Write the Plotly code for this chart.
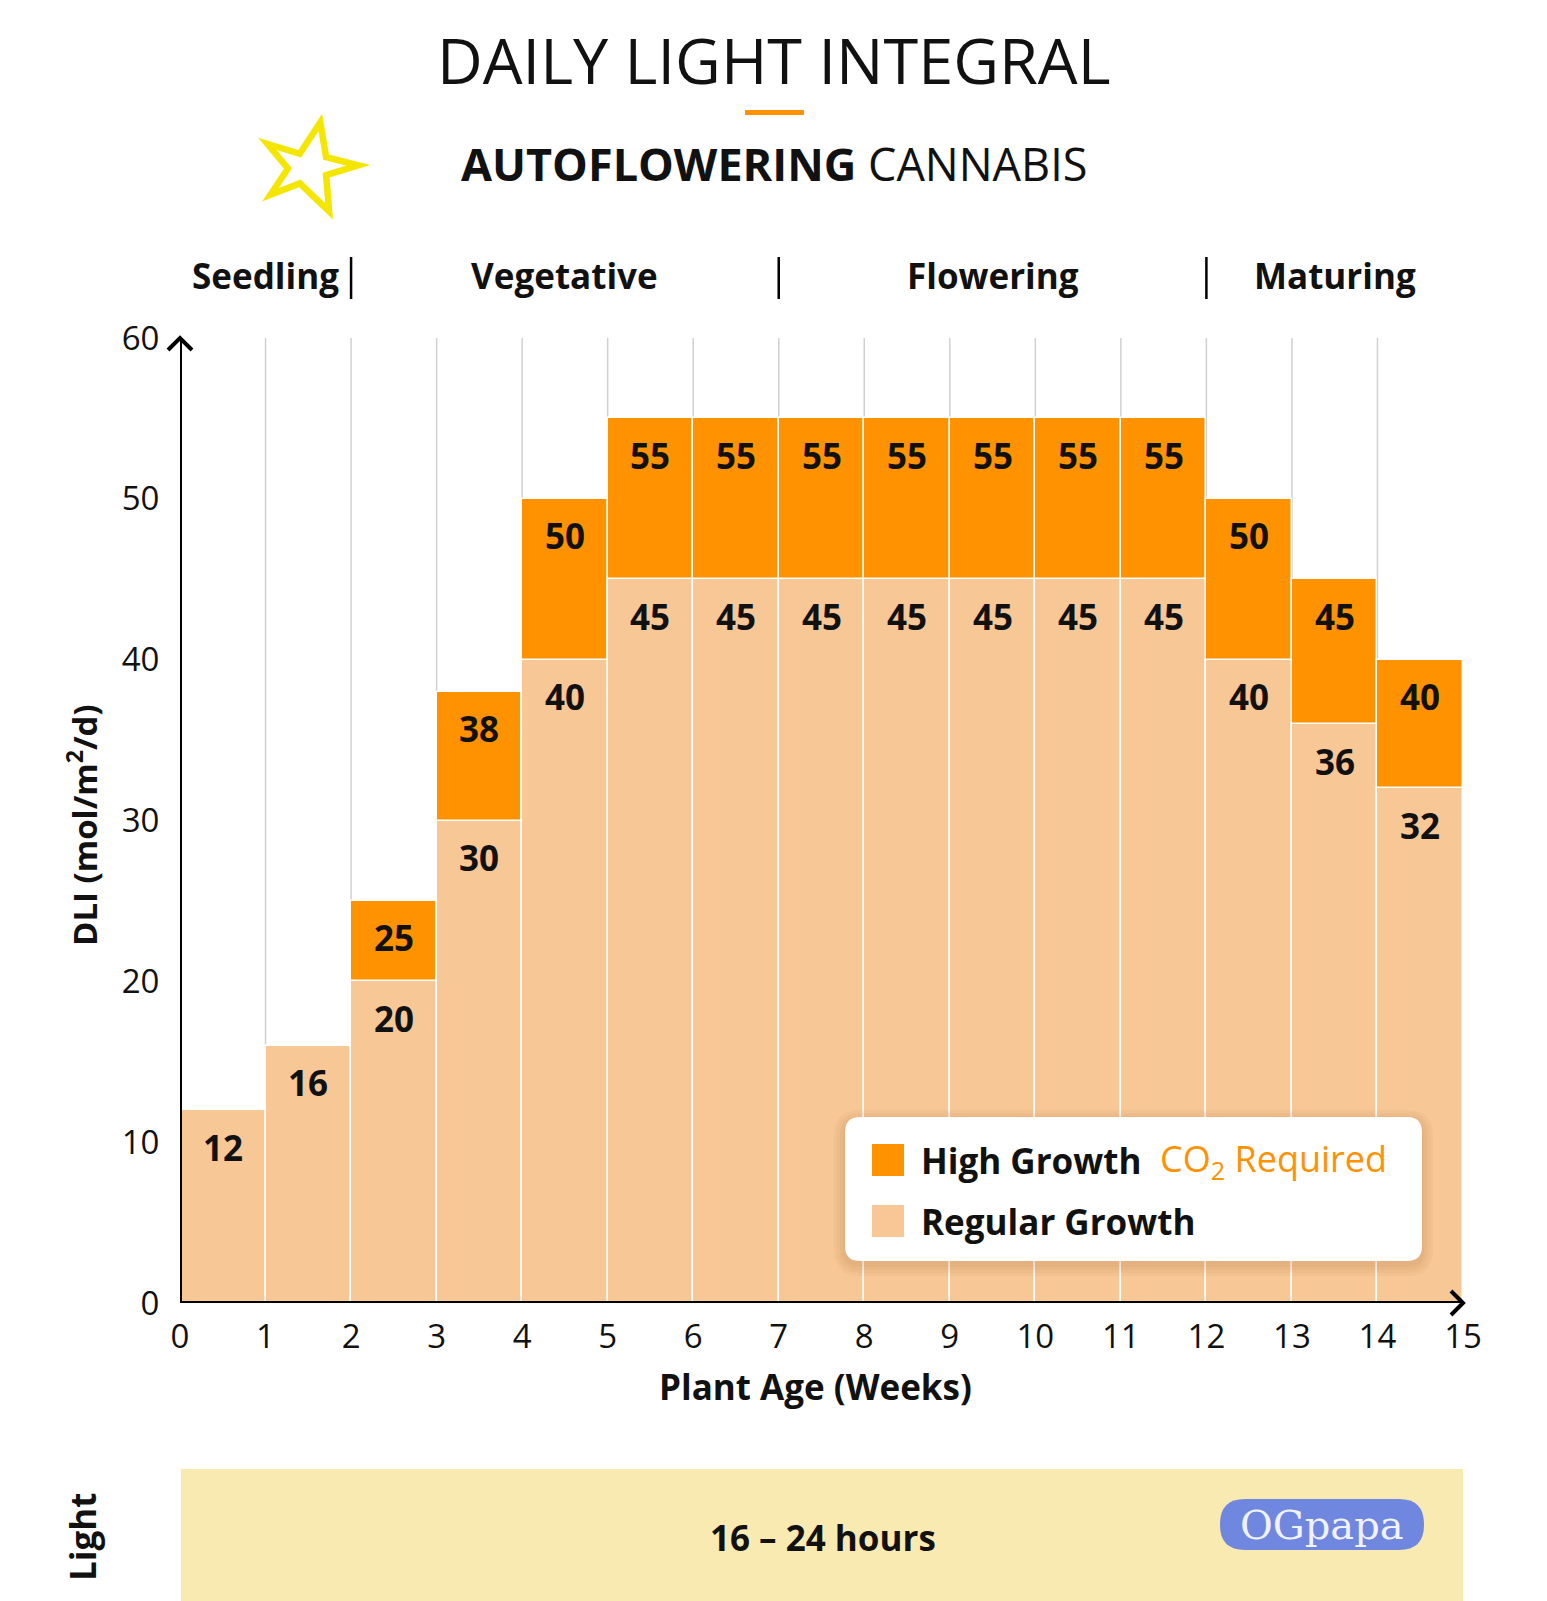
import plotly.graph_objects as go

# ---------------- data ----------------
weeks = list(range(15))                      # bar start week
regular_growth = [12, 16, 20, 30, 40, 45, 45, 45, 45, 45, 45, 45, 40, 36, 32]
high_growth = [12, 16, 25, 38, 50, 55, 55, 55, 55, 55, 55, 55, 50, 45, 40]
x_ticks = list(range(16))
y_ticks = [0, 10, 20, 30, 40, 50, 60]
phases = ["Seedling", "Vegetative", "Flowering", "Maturing"]
phase_bounds = [0, 2, 7, 12, 15]
light_text = "16 – 24 hours"

# ---------------- layout geometry (pixels) ----------------
W, H = 1547, 1601
L, R, T, B = 180, 1463, 338, 1303   # plot area edges in px
PW, PH = R - L, B - T

ORANGE = "#FF9200"
PEACH = "#F7C796"
FONT = "Open Sans"
INK = "#111"


def px(x):
    return (x - L) / PW


def py(y):
    return (B - y) / PH


def rrect(x0, y0, x1, y1, r):
    """rounded rectangle path in paper coords from pixel coords"""
    return (f"M {px(x0 + r)},{py(y0)} L {px(x1 - r)},{py(y0)} "
            f"Q {px(x1)},{py(y0)} {px(x1)},{py(y0 + r)} "
            f"L {px(x1)},{py(y1 - r)} Q {px(x1)},{py(y1)} {px(x1 - r)},{py(y1)} "
            f"L {px(x0 + r)},{py(y1)} Q {px(x0)},{py(y1)} {px(x0)},{py(y1 - r)} "
            f"L {px(x0)},{py(y0 + r)} Q {px(x0)},{py(y0)} {px(x0 + r)},{py(y0)} Z")


def poly(points, close=False):
    s = "M " + " L ".join(f"{px(x)},{py(y)}" for x, y in points)
    return s + (" Z" if close else "")


def note(x, y, text, size, weight=400, color=INK, family=FONT, xanchor="center", angle=0):
    return dict(x=px(x), y=py(y), xref="paper", yref="paper", text=text, showarrow=False,
                xanchor=xanchor, yanchor="middle", textangle=angle,
                font=dict(family=family, size=size, color=color, weight=weight))


centers = [w + 0.5 for w in weeks]

fig = go.Figure()
fig.add_trace(go.Bar(x=centers, y=high_growth, width=1,
                     marker=dict(color=ORANGE, line=dict(color="white", width=1.5)),
                     hoverinfo="skip", showlegend=False))
fig.add_trace(go.Bar(x=centers, y=regular_growth, width=1,
                     marker=dict(color=PEACH, line=dict(color="white", width=1.5)),
                     hoverinfo="skip", showlegend=False))

shapes = []
annotations = []

# grid lines
for k in x_ticks[1:-1]:
    shapes.append(dict(type="line", xref="x", yref="y", x0=k, x1=k, y0=0, y1=60,
                       line=dict(color="#d0d0d0", width=1.5), layer="below"))

# axis lines and arrows
shapes.append(dict(type="line", xref="x", yref="y", x0=0, x1=15, y0=0, y1=0,
                   line=dict(color="black", width=4), layer="above"))
shapes.append(dict(type="line", xref="x", yref="paper", x0=0, x1=0, y0=0, y1=py(337),
                   line=dict(color="black", width=4), layer="above"))
shapes.append(dict(type="path", xref="paper", yref="paper",
                   path=poly([(168, 350), (180, 338), (192, 350)]),
                   line=dict(color="black", width=4), layer="above"))
shapes.append(dict(type="path", xref="paper", yref="paper",
                   path=poly([(1451, 1291), (1463, 1303), (1451, 1315)]),
                   line=dict(color="black", width=4), layer="above"))

# value labels
VAL_SIZE = 35
for c, reg, hi in zip(centers, regular_growth, high_growth):
    annotations.append(dict(x=c, y=reg, xref="x", yref="y", text=f"<b>{reg}</b>", showarrow=False,
                            xanchor="center", yshift=-37, yanchor="middle",
                            font=dict(family=FONT, size=VAL_SIZE, color=INK)))
    if hi > reg:
        annotations.append(dict(x=c, y=hi, xref="x", yref="y", text=f"<b>{hi}</b>", showarrow=False,
                                xanchor="center", yshift=-37, yanchor="middle",
                                font=dict(family=FONT, size=VAL_SIZE, color=INK)))

# phase labels and separators
for i, name in enumerate(phases):
    mid = (phase_bounds[i] + phase_bounds[i + 1]) / 2
    annotations.append(dict(x=mid, y=py(276), xref="x", yref="paper", text=f"<b>{name}</b>",
                            showarrow=False, xanchor="center", yanchor="middle",
                            font=dict(family=FONT, size=35, color=INK)))
for b in phase_bounds[1:-1]:
    shapes.append(dict(type="line", xref="x", yref="paper", x0=b, x1=b, y0=py(257), y1=py(299),
                       line=dict(color="black", width=2.5)))

# title block
annotations.append(note(774, 60, "DAILY LIGHT INTEGRAL", 63, weight=400))
shapes.append(dict(type="rect", xref="paper", yref="paper", x0=px(745), x1=px(804), y0=py(115), y1=py(110),
                   fillcolor=ORANGE, line=dict(width=0)))
annotations.append(note(774, 163, "<b>AUTOFLOWERING</b> CANNABIS", 45))

# star
star_pts = [(313.7, 120), (319.4, 153.8), (351, 161.9), (319.4, 171.5), (322.3, 207),
            (293.6, 179.6), (264.9, 190.8), (282, 165), (262, 141), (293.6, 150.6)]
star_pts = [(x * 1.021, y * 1.021) for x, y in star_pts]
shapes.append(dict(type="path", xref="paper", yref="paper", path=poly(star_pts, close=True),
                   line=dict(color="#F5E600", width=6.5)))

# axis titles
annotations.append(note(815, 1386, "<b>Plant Age (Weeks)</b>", 35))
annotations.append(note(82, 825, "<b>DLI (mol/m<sup>2</sup>/d)</b>", 33, angle=-90))

# legend box with shadow
for i in range(4):
    g = 2 + i * 3
    shapes.append(dict(type="path", xref="paper", yref="paper",
                       path=rrect(845 - g, 1117 - g + 4, 1422 + g, 1261 + g + 4, 15 + g),
                       fillcolor="rgba(150,90,30,0.05)", line=dict(width=0), layer="above"))
shapes.append(dict(type="path", xref="paper", yref="paper", path=rrect(845, 1117, 1422, 1261, 15),
                   fillcolor="white", line=dict(width=0), layer="above"))
shapes.append(dict(type="rect", xref="paper", yref="paper", x0=px(872), x1=px(904), y0=py(1176), y1=py(1144),
                   fillcolor=ORANGE, line=dict(width=0), layer="above"))
shapes.append(dict(type="rect", xref="paper", yref="paper", x0=px(872), x1=px(904), y0=py(1237), y1=py(1205),
                   fillcolor=PEACH, line=dict(width=0), layer="above"))
annotations.append(note(919, 1160, "<b>High Growth</b>", 35, xanchor="left"))
annotations.append(note(1158, 1160, "CO<sub>2</sub> Required", 36, color=ORANGE, xanchor="left"))
annotations.append(note(919, 1221, "<b>Regular Growth</b>", 35, xanchor="left"))

# light band
shapes.append(dict(type="rect", xref="paper", yref="paper", x0=px(181), x1=px(1463), y0=py(1601), y1=py(1469),
                   fillcolor="#F9EAB2", line=dict(width=0)))
annotations.append(note(823, 1537, f"<b>{light_text}</b>", 35))
annotations.append(note(82, 1537, "<b>Light</b>", 35, angle=-90))
shapes.append(dict(type="path", xref="paper", yref="paper", path=rrect(1220, 1499, 1424, 1550, 25),
                   fillcolor="#7087E0", line=dict(width=0)))
annotations.append(note(1322, 1525, "OGpapa", 40, color="#F0F2FF", family="DejaVu Serif"))

fig.update_layout(
    width=W, height=H,
    margin=dict(l=L, r=W - R, t=T, b=H - B, pad=0),
    paper_bgcolor="white", plot_bgcolor="white",
    barmode="overlay", bargap=0,
    shapes=shapes, annotations=annotations,
    font=dict(family=FONT, color=INK),
    xaxis=dict(range=[0, 15], tickvals=x_ticks, showgrid=False, zeroline=False, showline=False,
               ticks="outside", ticklen=4, tickcolor="rgba(0,0,0,0)",
               tickfont=dict(family=FONT, size=33, color=INK)),
    yaxis=dict(range=[0, 60], tickvals=y_ticks, showgrid=False, zeroline=False, showline=False,
               ticks="outside", ticklen=13, tickcolor="rgba(0,0,0,0)",
               tickfont=dict(family=FONT, size=33, color=INK)),
)

fig.write_html("out.html", config={"displayModeBar": False},
               post_script="document.body.style.margin='0';document.body.style.overflow='hidden';")
